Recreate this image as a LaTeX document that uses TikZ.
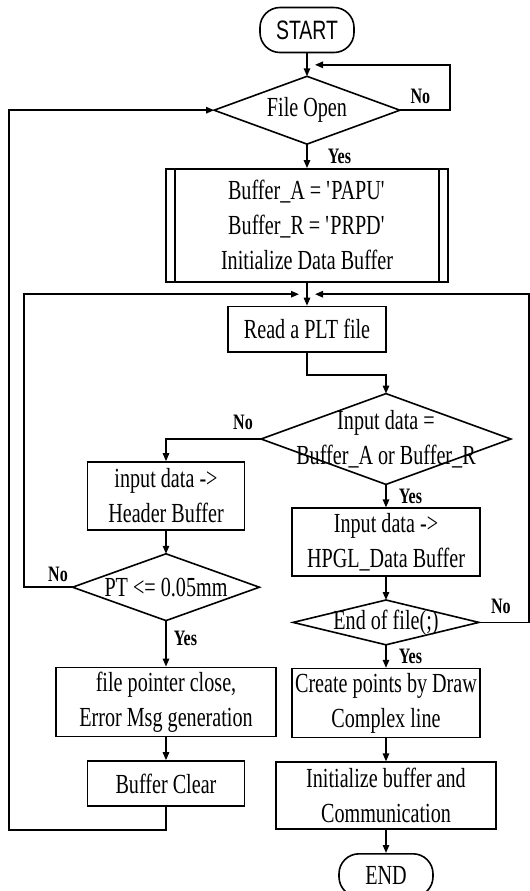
\documentclass[tikz,border=0pt]{standalone}
\usepackage{fontspec}
\setmainfont{Liberation Serif}[FakeStretch=0.73]
\newfontfamily\startfont{Liberation Sans}[FakeStretch=0.73]
\usetikzlibrary{positioning, shapes, arrows.meta, calc}

\begin{document}
\begin{tikzpicture}[x=0.5pt, y=-0.5pt, >={Triangle[length=4pt,width=3.2pt]},
  every node/.style={inner sep=1pt, align=center, font=\fontsize{13.8}{17.5}\selectfont},
  box/.style={draw, line width=0.8pt, rectangle},
  decision/.style={rectangle, inner sep=0pt},
  terminal/.style={draw, line width=0.8pt, rounded corners=10pt, minimum width=47pt, minimum height=22.5pt},
  lbl/.style={inner sep=0pt, font=\fontsize{11}{12}\selectfont\bfseries},
  flow/.style={draw, line width=0.8pt}]
  \useasboundingbox (0,0) rectangle (530,891);

  % main column
  \node[terminal, font=\startfont\fontsize{13.3}{16}\selectfont] (start) at (307,30) {START};
  \node[decision, minimum width=92.5pt, minimum height=33.5pt, below=11.5pt of start] (fileopen) {File Open};
  \node[box, minimum width=141pt, minimum height=56.5pt, below=12pt of fileopen] (init)
    {Buffer\_A = \textquotesingle PAPU\textquotesingle\\Buffer\_R = \textquotesingle PRPD\textquotesingle\\Initialize Data Buffer};
  \node[box, minimum width=79pt, minimum height=22.75pt, below=11.5pt of init] (read) {Read a PLT file};

  % right column
  \node[decision, minimum width=124.5pt, minimum height=45pt] (check) at (386,439) {Input data =\\Buffer\_A or Buffer\_R};
  \node[box, minimum width=94pt, minimum height=34pt, below=11.5pt of check] (hpgl) {Input data ->\\HPGL\_Data Buffer};
  \node[decision, minimum width=92.5pt, minimum height=22pt, below=11.5pt of hpgl] (eof) {End of file(;)};
  \node[box, minimum width=94pt, minimum height=34.5pt, below=11.5pt of eof] (create) {Create points by Draw\\Complex line};
  \node[box, minimum width=110pt, minimum height=33.5pt, below=11.5pt of create] (initbuf) {Initialize buffer and\\Communication};
  \node[terminal, minimum height=21.5pt, below=11.5pt of initbuf] (stop) {END};

  % left column
  \node[box, minimum width=78.5pt, minimum height=34pt] (header) at (166,496) {input data ->\\Header Buffer};
  \node[decision, minimum width=93pt, minimum height=33pt, below=11.5pt of header] (ptcheck) {PT <= 0.05mm};
  \node[box, minimum width=110pt, minimum height=34.5pt, below=23pt of ptcheck] (close) {file pointer close,\\Error Msg generation};
  \node[box, minimum width=78.5pt, minimum height=22.5pt, below=11.5pt of close] (clear) {Buffer Clear};

  % diamonds and the double sides of init
  \foreach \d in {fileopen,check,eof,ptcheck}
    \draw[line width=0.8pt] (\d.north) -- (\d.east) -- (\d.south) -- (\d.west) -- cycle;
  \draw[line width=0.8pt] ([xshift=5pt]init.north west) -- ([xshift=5pt]init.south west);
  \draw[line width=0.8pt] ([xshift=-5pt]init.north east) -- ([xshift=-5pt]init.south east);

  \coordinate (join1) at ($(start.south)!0.5!(fileopen.north)$);
  \coordinate (join2) at ($(init.south)!0.5!(read.north)$);

  % connectors
  \draw[flow, ->] (start) -- (fileopen);
  \draw[flow, ->] (fileopen.east) -- node[lbl, above=3pt, pos=0.41] {No} ++(25pt,0) |- ([xshift=4pt]join1);
  \draw[flow, ->] (fileopen.south) -- node[lbl, right=10pt] {Yes} (init.north);
  \draw[flow, ->] (init) -- (read);
  \draw[flow, ->] (read.south) -- ++(0,-11pt) -| (check.north);
  \draw[flow, ->] (check.west) -| node[lbl, above=4pt, pos=0.095] {No} (header.north);
  \draw[flow, ->] (check.south) -- node[lbl, right=6pt] {Yes} (hpgl.north);
  \draw[flow, ->] (hpgl) -- (eof);
  \draw[flow, ->] (eof.south) -- node[lbl, right=6pt] {Yes} (create.north);
  \draw[flow, ->] (eof.east) -- node[lbl, above=4pt, pos=0.44] {No} ++(25pt,0) |- ([xshift=4pt]join2);
  \draw[flow, ->] (create) -- (initbuf);
  \draw[flow, ->] (initbuf) -- (stop);
  \draw[flow, ->] (header) -- (ptcheck);
  \draw[flow, ->] (ptcheck.west) -- node[lbl, above=2.5pt, pos=0.3] {No} ++(-24.35pt,0) |- ([xshift=-4pt]join2);
  \draw[flow, ->] (ptcheck.south) -- node[lbl, right=3.5pt, pos=0.38] {Yes} (close.north);
  \draw[flow, ->] (close) -- (clear);
  \draw[flow, ->] (clear.south) -- ++(0,-11.5pt) -| ($(fileopen.west)-(102.5pt,0)$) -- (fileopen.west);
\end{tikzpicture}
\end{document}
